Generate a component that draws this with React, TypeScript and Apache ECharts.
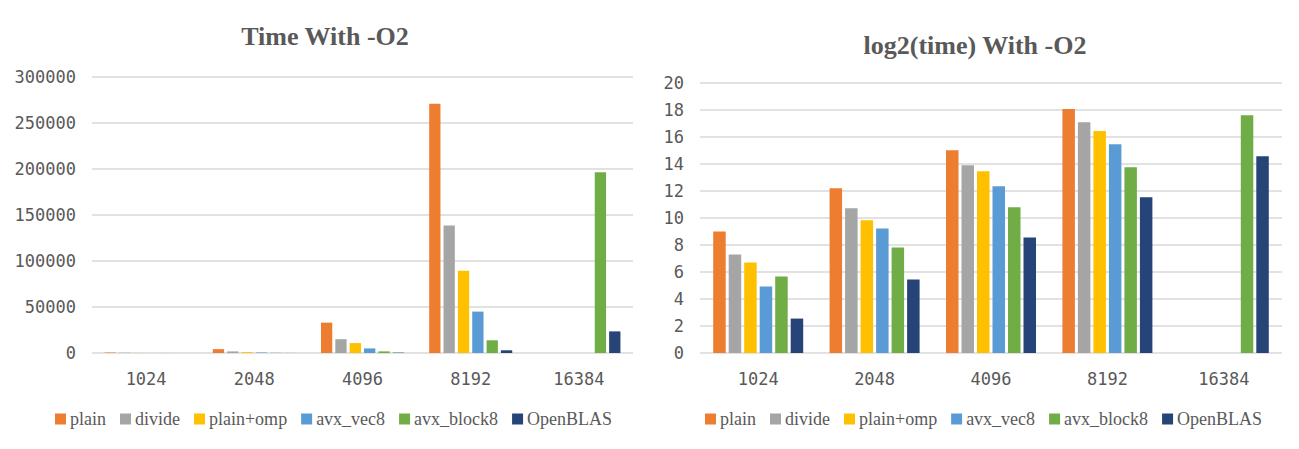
import React, { useEffect, useRef } from "react";
import * as echarts from "echarts";

const categories = ["1024", "2048", "4096", "8192", "16384"];
const seriesNames = ["plain", "divide", "plain+omp", "avx_vec8", "avx_block8", "OpenBLAS"];
const colors = ["#ED7D31", "#A5A5A5", "#FFC000", "#5B9BD5", "#70AD47", "#264478"];

// Time With -O2
const timePlain = [512, 4200, 33000, 271000, null];
const timeDivide = [158, 1720, 15000, 138500, null];
const timePlainOmp = [104, 920, 10800, 89500, null];
const timeAvxVec8 = [31, 610, 5000, 45000, null];
const timeAvxBlock8 = [51, 230, 1780, 13800, 196500];
const timeOpenBLAS = [6, 44, 380, 2950, 23500];

// log2(time) With -O2
const logPlain = [9.0, 12.2, 15.02, 18.07, null];
const logDivide = [7.3, 10.72, 13.91, 17.1, null];
const logPlainOmp = [6.71, 9.83, 13.47, 16.44, null];
const logAvxVec8 = [4.93, 9.23, 12.35, 15.47, null];
const logAvxBlock8 = [5.67, 7.82, 10.79, 13.76, 17.62];
const logOpenBLAS = [2.55, 5.45, 8.56, 11.53, 14.58];

const timeData = [timePlain, timeDivide, timePlainOmp, timeAvxVec8, timeAvxBlock8, timeOpenBLAS];
const logData = [logPlain, logDivide, logPlainOmp, logAvxVec8, logAvxBlock8, logOpenBLAS];

const TEXT = "#595959";
const GRID = "#D9D9D9";
const MONO = "'DejaVu Sans Mono', 'Liberation Mono', monospace";
const SERIF = "'Liberation Serif', 'DejaVu Serif', serif";

export default function App() {
  const ref = useRef<HTMLDivElement>(null);
  useEffect(() => {
    if (!ref.current) return;
    const chart = echarts.init(ref.current, undefined, { renderer: "svg" });
    const xAxisBase = {
      type: "category",
      data: categories,
      axisLine: { show: false },
      axisTick: { show: false },
      axisLabel: { color: TEXT, fontFamily: MONO, fontSize: 17, margin: 17 },
    };
    const yAxisBase = {
      type: "value",
      min: 0,
      axisLine: { show: false },
      axisTick: { show: false },
      splitLine: { lineStyle: { color: GRID, width: 1.5 } },
      axisLabel: {
        color: TEXT,
        fontFamily: MONO,
        fontSize: 17,
        margin: 16,
        formatter: (v: number) => String(v),
      },
    };
    const legendBase = {
      data: seriesNames,
      icon: "rect",
      itemWidth: 11,
      itemHeight: 11,
      itemGap: 14,
      textStyle: { color: TEXT, fontFamily: SERIF, fontSize: 18, padding: [0, 0, 0, -1] },
      selectedMode: false,
    };
    const series: any[] = [];
    seriesNames.forEach((name, i) => {
      series.push({
        name,
        type: "bar",
        xAxisIndex: 0,
        yAxisIndex: 0,
        data: timeData[i],
        barWidth: 11.3,
        barGap: "27%",
        itemStyle: { color: colors[i] },
      });
    });
    seriesNames.forEach((name, i) => {
      series.push({
        name,
        type: "bar",
        xAxisIndex: 1,
        yAxisIndex: 1,
        data: logData[i],
        barWidth: 12.5,
        barGap: "24%",
        itemStyle: { color: colors[i] },
      });
    });
    chart.setOption({
      animation: false,
      backgroundColor: "#ffffff",
      graphic: [
        {
          type: "text",
          x: 325,
          y: 36,
          style: {
            text: "Time With -O2",
            textAlign: "center",
            textVerticalAlign: "middle",
            font: `bold 26px ${SERIF}`,
            fill: TEXT,
          },
        },
        {
          type: "text",
          x: 975,
          y: 45,
          style: {
            text: "log2(time) With -O2",
            textAlign: "center",
            textVerticalAlign: "middle",
            font: `bold 26px ${SERIF}`,
            fill: TEXT,
          },
        },
      ],
      legend: [
        { ...legendBase, left: 50, top: 405 },
        { ...legendBase, left: 700, top: 405 },
      ],
      grid: [
        { left: 92, right: 666, top: 77, bottom: 96 },
        { left: 700, right: 17, top: 83, bottom: 96 },
      ],
      xAxis: [
        { ...xAxisBase, gridIndex: 0 },
        { ...xAxisBase, gridIndex: 1 },
      ],
      yAxis: [
        { ...yAxisBase, gridIndex: 0, max: 300000, interval: 50000 },
        { ...yAxisBase, gridIndex: 1, max: 20, interval: 2 },
      ],
      series,
    });
    return () => chart.dispose();
  }, []);
  return (
    <div
      ref={ref}
      style={{ position: "fixed", left: 0, top: 0, width: 1299, height: 449, background: "#fff" }}
    />
  );
}
